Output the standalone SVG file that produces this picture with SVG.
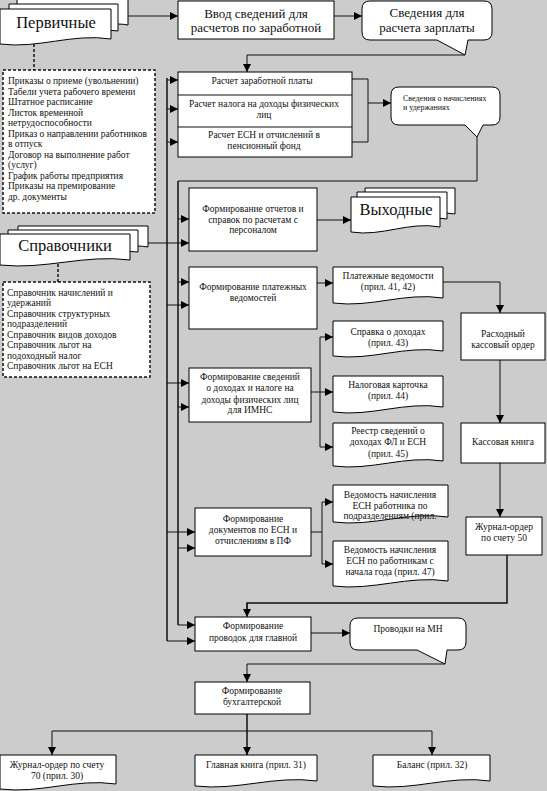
<svg xmlns="http://www.w3.org/2000/svg" width="547" height="791" viewBox="0 0 547 791" font-family="'Liberation Serif', 'DejaVu Serif', serif">
<defs>
<marker id="ah" viewBox="0 0 10 10" refX="10" refY="5" markerWidth="10" markerHeight="8" markerUnits="userSpaceOnUse" orient="auto"><path d="M0,0 L10,5 L0,10 z" fill="#000"/></marker>
</defs>
<style>
.bx{fill:#fff;stroke:#000;stroke-width:1}
.dash{fill:#fff;stroke:#111;stroke-width:1.5;stroke-dasharray:3,2}
.dl{fill:none;stroke:#111;stroke-width:1.5;stroke-dasharray:3,2}
.ln{fill:none;stroke:#111;stroke-width:1}
.bus{fill:none;stroke:#111;stroke-width:1.5}
.ar{marker-end:url(#ah)}
text{font-family:'Liberation Serif','DejaVu Serif',serif;fill:#111}
.big{font-size:16.5px;text-anchor:middle}
.med{font-size:13px;text-anchor:middle}
.sm{font-size:9.5px;text-anchor:middle}
.lt{font-size:9.5px}
.xs{font-size:8px}
</style>
<rect x="0" y="0" width="547" height="791" fill="#cccccc"/>

<g id="connectors">
<path class="ln ar" d="M128,16 H178"/>
<path class="ln ar" d="M334,16 H362"/>
<path class="ln ar" d="M465,55 H247 V72"/>
<path class="bus" d="M167,78 V641"/>
<path class="ln ar" d="M167,80 H178"/>
<path class="ln ar" d="M167,109 H178"/>
<path class="ln ar" d="M167,142 H178"/>
<path class="ln ar" d="M167,305 H189"/>
<path class="ln ar" d="M167,383 H189"/>
<path class="ln ar" d="M167,532 H195"/>
<path class="ln ar" d="M167,641 H195"/>
<path class="ln ar" d="M148,243 H189"/>
<path class="ln" d="M477,137 V181 H178"/>
<path class="bus" d="M178,181 V625"/>
<path class="ln ar" d="M178,219 H189"/>
<path class="ln ar" d="M178,282 H189"/>
<path class="ln ar" d="M178,407 H189"/>
<path class="ln ar" d="M178,548 H195"/>
<path class="ln ar" d="M178,625 H195"/>
<path class="ln" d="M352,79 H368 V142 H352"/>
<path class="ln ar" d="M368,103 H391"/>
<path class="ln ar" d="M317,220 H351"/>
<path class="ln ar" d="M317,283 H333"/>
<path class="ln ar" d="M443,282 H500 V313"/>
<path class="ln ar" d="M500,360 V423"/>
<path class="ln ar" d="M500,463 V517"/>
<path class="bus" d="M507,555 V603 H247 V610"/>
<path class="ln ar" d="M247,603 V617"/>
<path class="ln" d="M311,392 H320 M320,337 V447"/>
<path class="ln ar" d="M320,337 H333"/>
<path class="ln ar" d="M320,392 H333"/>
<path class="ln ar" d="M320,447 H333"/>
<path class="ln" d="M311,532 H322 M322,502 V564"/>
<path class="ln ar" d="M322,502 H333"/>
<path class="ln ar" d="M322,564 H333"/>
<path class="ln ar" d="M311,633 H350"/>
<path class="ln ar" d="M445,664 H247 V682"/>
<path class="bus ar" d="M247,714 V755"/>
<path class="ln" d="M52,731 H432"/>
<path class="ln ar" d="M52,731 V755"/>
<path class="ln ar" d="M432,731 V755"/>
<path class="dl" d="M34,44 V70"/>
<path class="dl" d="M58,264 V282"/>
</g>

<g id="pervichnye">
<path class="bx" d="M17,-1 H128 V25 C105,20 60,36 17,30 Z"/>
<path class="bx" d="M9,4 H118 V31 C80,25 47,41 9,36 Z"/>
<path class="bx" d="M0,9 H111 V39 C72.15,33 38.85,49 0,44 Z"/>
<text class="big" x="56" y="28">Первичные</text>
</g>

<g id="pervichnye-list">
<rect class="dash" x="3" y="70" width="152" height="143"/>
<text class="lt" x="8" y="84">Приказы о приеме (увольнении)</text>
<text class="lt" x="8" y="94.5">Табели  учета рабочего времени</text>
<text class="lt" x="8" y="105">Штатное расписание</text>
<text class="lt" x="8" y="115.5">Листок временной</text>
<text class="lt" x="8" y="126">нетрудоспособности</text>
<text class="lt" x="8" y="136.5">Приказ о направлении работников</text>
<text class="lt" x="8" y="147">в отпуск</text>
<text class="lt" x="8" y="157.5">Договор на выполнение работ</text>
<text class="lt" x="8" y="168">(услуг)</text>
<text class="lt" x="8" y="178.5">График работы предприятия</text>
<text class="lt" x="8" y="189">Приказы на премирование</text>
<text class="lt" x="8" y="199.5">др. документы</text>
</g>

<g id="vvod">
<rect class="bx" x="178" y="1" width="156" height="38"/>
<text class="med" x="256" y="18">Ввод сведений для</text>
<text class="med" x="256" y="32">расчетов по заработной</text>
</g>

<g id="svedeniya-zarplaty">
<path class="bx" d="M370,1 H484 Q492,1 492,9 V32 Q492,40 484,40 H468 L465,55 L437,40 H370 Q362,40 362,32 V9 Q362,1 370,1 Z"/>
<text class="med" x="427" y="17">Сведения для</text>
<text class="med" x="427" y="32">расчета зарплаты</text>
</g>

<g id="raschet">
<rect class="bx" x="178" y="72" width="174" height="85"/>
<path class="ln" d="M178,95 H352 M178,127 H352"/>
<text class="sm" x="262" y="84">Расчет заработной платы</text>
<text class="sm" x="264" y="107">Расчет налога на доходы физических</text>
<text class="sm" x="264" y="118">лиц</text>
<text class="sm" x="264" y="138">Расчет ЕСН и отчислений в</text>
<text class="sm" x="264" y="148.5">пенсионный фонд</text>
</g>

<g id="svedeniya-nachisleniya">
<path class="bx" d="M399,87 H492 Q500,87 500,95 V117 Q500,125 492,125 H483 L477,137 L465,125 H399 Q391,125 391,117 V95 Q391,87 399,87 Z"/>
<text class="xs" x="403" y="101">Сведения о начислениях</text>
<text class="xs" x="403" y="110">и удержаниях</text>
</g>

<g id="spravochniki">
<path class="bx" d="M18,226 H148 V247 C120,242 70,256 18,252 Z"/>
<path class="bx" d="M8,230 H138 V252 C100,247 55,262 8,257 Z"/>
<path class="bx" d="M0,234 H130 V260 C84.5,254 45.5,270 0,265 Z"/>
<text class="big" x="65" y="251">Справочники</text>
</g>

<g id="spravochniki-list">
<rect class="dash" x="3" y="282" width="147" height="95"/>
<text class="lt" x="7" y="296">Справочник начислений и</text>
<text class="lt" x="7" y="306.4">удержаний</text>
<text class="lt" x="7" y="316.9">Справочник структурных</text>
<text class="lt" x="7" y="327.3">подразделений</text>
<text class="lt" x="7" y="337.7">Справочник видов доходов</text>
<text class="lt" x="7" y="348.1">Справочник льгот на</text>
<text class="lt" x="7" y="358.6">подоходный налог</text>
<text class="lt" x="7" y="369">Справочник льгот на ЕСН</text>
</g>

<g id="form-otchetov">
<rect class="bx" x="189" y="188" width="128" height="63"/>
<text class="sm" x="253" y="212">Формирование отчетов и</text>
<text class="sm" x="253" y="222.5">справок по расчетам с</text>
<text class="sm" x="253" y="233">персоналом</text>
</g>

<g id="vyhodnye">
<path class="bx" d="M365,188 H455 V214 C423.5,208 396.5,224 365,219 Z"/>
<path class="bx" d="M357,192 H447 V219 C415.5,213 388.5,229 357,224 Z"/>
<path class="bx" d="M351,197 H440 V227 C408.85,221 382.15,237 351,232 Z"/>
<text class="big" x="396" y="215">Выходные</text>
</g>

<g id="form-platezhnyh">
<rect class="bx" x="189" y="267" width="128" height="62"/>
<text class="sm" x="253" y="290">Формирование платежных</text>
<text class="sm" x="253" y="300.5">ведомостей</text>
</g>

<g id="platezhnye">
<path class="bx" d="M333,267 H443 V298 C404.5,292 371.5,308 333,303 Z"/>
<text class="sm" x="388" y="279">Платежные ведомости</text>
<text class="sm" x="388" y="290">(прил. 41, 42)</text>
</g>

<g id="rashodny">
<rect class="bx" x="461" y="313" width="84" height="47"/>
<text class="sm" x="503" y="337">Расходный</text>
<text class="sm" x="503" y="347.5">кассовый ордер</text>
</g>

<g id="kassovaya">
<rect class="bx" x="461" y="423" width="84" height="40"/>
<text class="sm" x="503" y="445">Кассовая книга</text>
</g>

<g id="zhurnal50">
<rect class="bx" x="466" y="517" width="76" height="38"/>
<text class="sm" x="504" y="530">Журнал-ордер</text>
<text class="sm" x="504" y="541">по счету 50</text>
</g>

<g id="form-svedeniy">
<rect class="bx" x="189" y="368" width="122" height="54"/>
<text class="sm" x="250" y="380">Формирование сведений</text>
<text class="sm" x="250" y="391">о доходах  и налоге на</text>
<text class="sm" x="250" y="402.5">доходы физических лиц</text>
<text class="sm" x="250" y="413">для ИМНС</text>
</g>

<g id="spravka">
<path class="bx" d="M333,321 H443 V351 C404.5,345 371.5,361 333,356 Z"/>
<text class="sm" x="388" y="335">Справка о доходах</text>
<text class="sm" x="388" y="345.5">(прил. 43)</text>
</g>

<g id="nalogovaya">
<path class="bx" d="M333,376 H443 V407 C404.5,401 371.5,417 333,412 Z"/>
<text class="sm" x="388" y="388">Налоговая карточка</text>
<text class="sm" x="388" y="399">(прил. 44)</text>
</g>

<g id="reestr">
<path class="bx" d="M333,423 H443 V461 C404.5,455 371.5,471 333,466 Z"/>
<text class="sm" x="388" y="433.5">Реестр сведений о</text>
<text class="sm" x="388" y="445">доходах ФЛ и ЕСН</text>
<text class="sm" x="388" y="456.5">(прил. 45)</text>
</g>

<g id="form-esn">
<rect class="bx" x="195" y="508" width="116" height="48"/>
<text class="sm" x="253" y="522">Формирование</text>
<text class="sm" x="253" y="533">документов по ЕСН и</text>
<text class="sm" x="253" y="543.5">отчислениям в ПФ</text>
</g>

<g id="vedomost1">
<path class="bx" d="M333,485 H448 V517 C407.75,511 373.25,527 333,522 Z"/>
<text class="sm" x="390" y="498">Ведомость начисления</text>
<text class="sm" x="390" y="508.5">ЕСН работника по</text>
<text class="sm" x="390" y="519">подразделениям (прил.</text>
</g>

<g id="vedomost2">
<path class="bx" d="M333,541 H448 V581 C407.75,575 373.25,591 333,586 Z"/>
<text class="sm" x="390" y="553">Ведомость начисления</text>
<text class="sm" x="390" y="564">ЕСН по работникам с</text>
<text class="sm" x="390" y="575">начала года (прил. 47)</text>
</g>

<g id="form-provodok">
<rect class="bx" x="195" y="617" width="116" height="34"/>
<text class="sm" x="253" y="629">Формирование</text>
<text class="sm" x="253" y="640.5">проводок для главной</text>
</g>

<g id="provodki-mn">
<path class="bx" d="M358,618 H458 Q466,618 466,626 V642 Q466,650 458,650 H447 L445,664 L417,650 H358 Q350,650 350,642 V626 Q350,618 358,618 Z"/>
<text class="sm" x="408" y="632">Проводки на МН</text>
</g>

<g id="form-buh">
<rect class="bx" x="195" y="682" width="115" height="32"/>
<text class="sm" x="252" y="694">Формирование</text>
<text class="sm" x="252" y="705">бухгалтерской</text>
</g>

<g id="zhurnal70">
<path class="bx" d="M0,755 H116 V784 C75.4,778 40.6,794 0,789 Z"/>
<text class="sm" x="57" y="768">Журнал-ордер по счету</text>
<text class="sm" x="57" y="778.5">70 (прил. 30)</text>
</g>

<g id="glavnaya">
<path class="bx" d="M195,755 H317 V781 C274.3,775 237.7,791 195,786 Z"/>
<text class="sm" x="256" y="768">Главная книга (прил. 31)</text>
</g>

<g id="balans">
<path class="bx" d="M373,755 H490 V781 C449,775 414,791 373,786 Z"/>
<text class="sm" x="432" y="768">Баланс (прил. 32)</text>
</g>
</svg>
